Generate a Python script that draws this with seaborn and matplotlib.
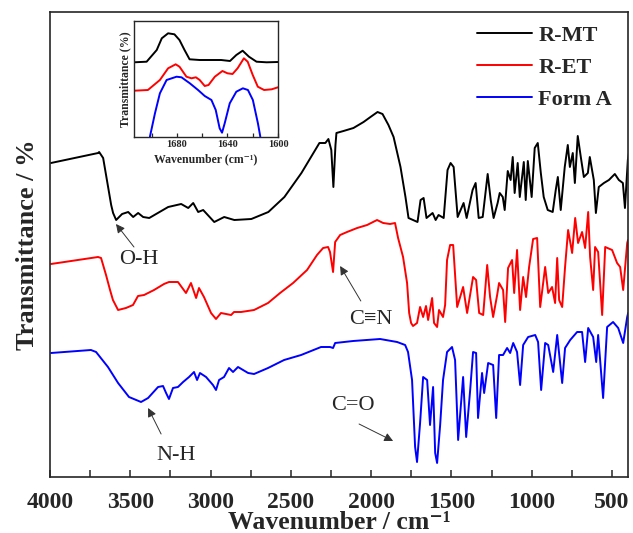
import matplotlib
matplotlib.use("Agg")
import matplotlib.pyplot as plt
from matplotlib.ticker import MultipleLocator, FixedLocator
import seaborn as sns
import pandas as pd

# ---------------- data (wavenumber cm-1, transmittance arbitrary units, offset) -------------
series_names = ["R-MT", "R-ET", "Form A"]
series_colors = ["black", "red", "blue"]

rmt_wn = [3994, 3700, 3694, 3669, 3619, 3607, 3588, 3551, 3513, 3482, 3451, 3420, 3382, 3264, 3183,
          3139, 3108, 3077, 3046, 2977, 2915, 2852, 2746, 2640, 2540, 2434, 2322, 2285, 2266, 2248,
          2235, 2222, 2216, 2172, 2110, 2047, 2004, 1960, 1929, 1892, 1860, 1817, 1786, 1767, 1711,
          1692, 1673, 1655, 1617, 1598, 1580, 1548, 1524, 1505, 1486, 1461, 1424, 1405, 1368, 1349,
          1330, 1305, 1274, 1255, 1237, 1212, 1199, 1180, 1168, 1149, 1131, 1118, 1106, 1087, 1074,
          1049, 1037, 1024, 1000, 981, 962, 943, 925, 900, 869, 850, 837, 819, 794, 775, 762, 744,
          731, 713, 694, 675, 650, 638, 613, 600, 582, 550, 519, 482, 457, 432, 419, 401, 394]
rmt_t = [314, 324, 325, 319, 272, 264, 257, 263, 265, 260, 264, 260, 259, 270, 273,
         269, 274, 265, 267, 255, 260, 257, 258, 265, 280, 304, 334, 334, 338, 327,
         290, 332, 344, 346, 349, 355, 360, 365, 363, 352, 340, 310, 280, 259, 255,
         277, 279, 259, 264, 257, 262, 259, 307, 314, 310, 260, 274, 259, 287, 294,
         259, 260, 303, 277, 259, 274, 284, 280, 267, 306, 297, 320, 284, 314, 280,
         315, 277, 316, 280, 329, 334, 304, 280, 267, 265, 287, 300, 267, 310, 332, 310, 324,
         294, 341, 320, 300, 304, 320, 297, 264, 290, 294, 297, 303, 297, 294, 269, 317, 324]

ret_wn = [3994, 3701, 3682, 3651, 3626, 3608, 3576, 3527, 3483, 3452, 3414, 3352, 3290, 3259, 3203,
          3153, 3122, 3090, 3072, 3041, 2997, 2966, 2935, 2872, 2854, 2810, 2729, 2642, 2567, 2486,
          2399, 2337, 2299, 2268, 2256, 2237, 2224, 2193, 2150, 2087, 2025, 1963, 1925, 1882, 1851,
          1832, 1801, 1776, 1763, 1751, 1739, 1714, 1695, 1676, 1658, 1645, 1620, 1608, 1589, 1577,
          1552, 1539, 1527, 1508, 1489, 1464, 1427, 1402, 1365, 1346, 1327, 1302, 1277, 1259, 1240,
          1215, 1203, 1178, 1165, 1147, 1122, 1109, 1091, 1072, 1053, 1035, 1016, 991, 966, 947,
          916, 897, 873, 854, 841, 829, 810, 792, 773, 748, 729, 711, 686, 667, 648, 636, 617, 605,
          586, 561, 542, 499, 468, 449, 430, 405, 400]
ret_t = [213, 220, 219, 202, 187, 177, 167, 169, 172, 181, 182, 187, 193, 195, 195,
         184, 194, 179, 189, 180, 164, 158, 164, 162, 165, 165, 167, 174, 184, 194,
         207, 222, 229, 230, 225, 205, 235, 242, 245, 249, 252, 257, 254, 253, 254,
         239, 220, 194, 164, 154, 151, 154, 170, 160, 171, 157, 179, 154, 150, 167,
         160, 172, 217, 232, 232, 170, 190, 164, 200, 197, 164, 162, 212, 180, 160,
         182, 194, 187, 155, 209, 217, 184, 227, 167, 200, 180, 210, 238, 239, 170,
         210, 184, 190, 174, 219, 177, 170, 210, 247, 224, 259, 234, 245, 229, 265, 220, 187, 230,
         225, 162, 230, 227, 214, 210, 187, 234, 237]

fa_wn = [3994, 3745, 3713, 3639, 3576, 3508, 3433, 3389, 3327, 3296, 3277, 3259, 3234, 3203, 3171,
         3134, 3103, 3084, 3066, 3028, 2985, 2966, 2947, 2916, 2885, 2860, 2829, 2766, 2729, 2642,
         2542, 2436, 2312, 2256, 2237, 2224, 2112, 1944, 1838, 1788, 1770, 1745, 1726, 1714, 1695,
         1676, 1651, 1633, 1614, 1601, 1589, 1570, 1552, 1527, 1496, 1477, 1458, 1427, 1408, 1383,
         1365, 1346, 1334, 1309, 1296, 1271, 1240, 1221, 1203, 1178, 1153, 1134, 1115, 1091, 1072,
         1053, 1022, 978, 960, 941, 916, 897, 866, 841, 810, 792, 760, 717, 686, 667, 648, 617,
         598, 586, 555, 530, 493, 461, 430, 405, 399]
fa_t = [124, 127, 125, 110, 94, 80, 75, 79, 90, 91, 84, 78, 89, 90, 95,
        100, 105, 97, 104, 100, 92, 87, 97, 100, 109, 105, 110, 104, 103, 109,
        117, 122, 130, 130, 129, 134, 136, 138, 135, 132, 125, 97, 30, 15, 54,
        100, 97, 52, 90, 24, 14, 52, 97, 125, 130, 117, 37, 100, 40, 87,
        125, 124, 59, 104, 84, 114, 112, 59, 122, 122, 129, 124, 134, 125, 92,
        132, 140, 142, 135, 87, 134, 132, 105, 142, 94, 129, 137, 145, 145, 115, 149, 140,
        115, 142, 79, 150, 155, 149, 134, 160, 164]

# inset (zoomed 1714-1600 cm-1)
in_rmt_wn = [1714, 1704, 1696, 1692, 1687, 1682, 1678, 1674, 1670, 1662, 1654, 1645, 1638, 1633,
             1628, 1623, 1617, 1609, 1600]
in_rmt_t = [74.7, 75.3, 87, 98.7, 103.7, 102.7, 97, 87, 77.7, 77, 77, 77, 76, 82, 86.3, 80.3,
            75.3, 74.7, 75]
in_ret_wn = [1714, 1703, 1693.5, 1687, 1681, 1678, 1672.5, 1668.5, 1665, 1662, 1658, 1655, 1650,
             1644, 1640, 1636, 1632, 1627, 1624, 1620, 1616, 1611, 1605, 1600]
in_ret_t = [46.3, 47, 57, 68.7, 72.7, 70.3, 60.3, 58.7, 59.7, 57, 51, 52, 60.3, 66, 63.7, 63,
            68.7, 78.7, 75.3, 62, 50.3, 47, 47.7, 49.7]
in_fa_wn = [1701.4, 1697.4, 1693.5, 1688.2, 1680.3, 1676.4, 1669.8, 1663.3, 1658, 1652.7, 1649.3,
            1646.2, 1644.3, 1642.2, 1638.2, 1633, 1627.8, 1623.8, 1619.9, 1615.9, 1614]
in_fa_t = [0.3, 23.7, 43.7, 57, 60.3, 59.7, 53.7, 47, 41, 37, 27, 8.7, 4.3, 13.7, 33.7, 45.3,
           48.7, 47, 37, 13.7, 0.3]

main_xticks = [4000, 3500, 3000, 2500, 2000, 1500, 1000, 500]
inset_xticks = [1680, 1640, 1600]

# ---------------- styling ----------------
sns.set_style("ticks")
plt.rcParams["font.family"] = ["Liberation Serif", "DejaVu Serif"]

def frame(wn, t, name):
    return pd.DataFrame({"wn": wn, "t": t, "series": name})

df_main = pd.concat([frame(rmt_wn, rmt_t, "R-MT"), frame(ret_wn, ret_t, "R-ET"),
                     frame(fa_wn, fa_t, "Form A")], ignore_index=True)
df_in = pd.concat([frame(in_rmt_wn, in_rmt_t, "R-MT"), frame(in_ret_wn, in_ret_t, "R-ET"),
                   frame(in_fa_wn, in_fa_t, "Form A")], ignore_index=True)
palette = dict(zip(series_names, series_colors))

W, H = 633, 533
fig = plt.figure(figsize=(W / 100, H / 100), dpi=100)
ax = fig.add_axes([50 / W, 56 / H, 578 / W, 465 / H])

sns.lineplot(data=df_main, x="wn", y="t", hue="series", hue_order=series_names,
             palette=palette, estimator=None, sort=False, linewidth=1.4, ax=ax)

ax.set_xlim(4000, 400)
ax.set_ylim(0, 465)
ax.set_yticks([])
ax.xaxis.set_major_locator(FixedLocator(main_xticks))
ax.xaxis.set_minor_locator(MultipleLocator(250))
ax.tick_params(axis="x", which="both", direction="in", length=5, width=1.1, pad=11)
for lab in ax.get_xticklabels():
    lab.set_fontsize(17)
    lab.set_fontweight("bold")
for sp in ax.spines.values():
    sp.set_linewidth(1.2)
    sp.set_visible(True)
ax.set_xlabel("Wavenumber / cm\u207b\u00b9", fontsize=18.5, fontweight="bold")
ax.xaxis.set_label_coords(0.5, -0.074)
ax.set_ylabel("Transmittance / %", fontsize=19, fontweight="bold", labelpad=8)

handles, labels = ax.get_legend_handles_labels()
for h in handles:
    h.set_linewidth(1.4)
ax.legend(handles, labels, frameon=False, loc="upper right",
          bbox_to_anchor=(612 / W, 1 - 25 / H), bbox_transform=fig.transFigure,
          borderaxespad=0, borderpad=0, handlelength=2.45, handletextpad=0.3,
          labelspacing=0.52, prop={"family": "Liberation Serif", "weight": "bold", "size": 16})

# annotations
ann_font = {"family": ["Liberation Serif", "DejaVu Serif"], "size": 16}
arrow = dict(arrowstyle="-|>", color="#333333", lw=0.7, mutation_scale=13, shrinkA=0, shrinkB=0)
notes = [("O-H", (3446, 217), (3477, 230), (3589, 253)),
         ("C≡N", (2002, 157), (2064, 176), (2193, 211)),
         ("C=O", (2112, 72), (2075, 53), (1863, 36)),
         ("N-H", (3215, 21), (3308, 43), (3389, 69))]
for txt, tpos, tail, head in notes:
    ax.text(tpos[0], tpos[1], txt, ha="center", va="center", fontdict=ann_font)
    ax.annotate("", xy=head, xytext=tail, arrowprops=arrow)

# inset
axin = fig.add_axes([134 / W, (H - 137) / H, 144 / W, 116 / H])
sns.lineplot(data=df_in, x="wn", y="t", hue="series", hue_order=series_names,
             palette=palette, estimator=None, sort=False, linewidth=1.4, ax=axin, legend=False)
axin.set_xlim(1714, 1600)
axin.set_ylim(0, 116)
axin.set_yticks([])
axin.xaxis.set_major_locator(FixedLocator(inset_xticks))
axin.xaxis.set_minor_locator(MultipleLocator(20))
axin.tick_params(axis="x", which="both", direction="in", length=3, width=0.9, pad=2)
for lab in axin.get_xticklabels():
    lab.set_fontsize(7.5)
    lab.set_fontweight("bold")
for sp in axin.spines.values():
    sp.set_linewidth(1.0)
    sp.set_visible(True)
axin.set_xlabel("Wavenumber (cm\u207b\u00b9)", fontsize=8.5, fontweight="bold", labelpad=3)
axin.set_ylabel("Transmittance (%)", fontsize=8.5, fontweight="bold", labelpad=2)

fig.savefig("out.png", dpi=100)
